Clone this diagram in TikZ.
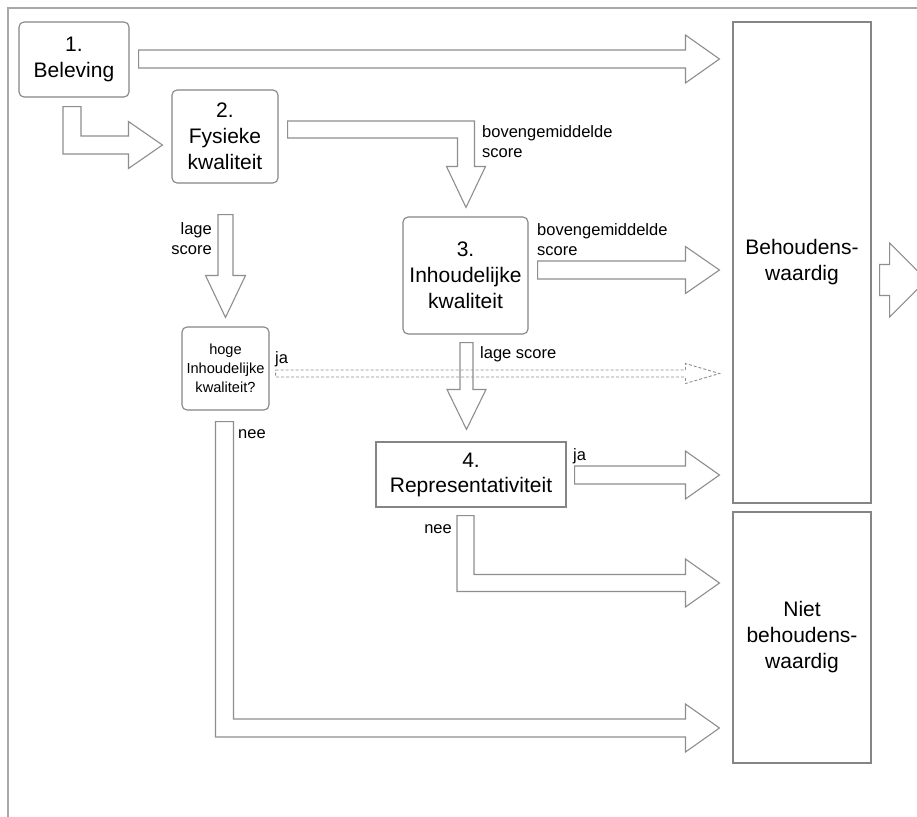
\documentclass[tikz,border=0pt]{standalone}
\usepackage{fontspec}
\setmainfont{Liberation Sans}
\usetikzlibrary{calc}
\definecolor{boxgray}{HTML}{858585}
\definecolor{arrgray}{HTML}{8E8E8E}
\definecolor{framegray}{HTML}{A8A8A8}
\tikzset{
  box/.style={draw=boxgray, line width=1.1pt, rounded corners=5pt, align=center, inner sep=0pt,
    font=\fontsize{21}{26}\selectfont},
  sqbox/.style={box, rounded corners=0pt},
  blk/.style={draw=arrgray, line width=1.1pt, fill=white, line join=miter},
  dashblk/.style={draw=arrgray, line width=0.9pt, dash pattern=on 3pt off 2pt},
  lbl/.style={inner sep=0pt, font=\fontsize{16.5}{20}\selectfont},
}
% horizontal block arrow: #1 extra style, #2 start, #3 tip, #4 half shaft, #5 half head, #6 head length
\newcommand\harr[6][]{%
  \draw[blk,#1] let \p1=#2, \p2=#3 in
    (\x1,{\y2+#4}) -- ({\x2-#6},{\y2+#4}) -- ({\x2-#6},{\y2+#5}) -- (\x2,\y2)
    -- ({\x2-#6},{\y2-#5}) -- ({\x2-#6},{\y2-#4}) -- (\x1,{\y2-#4}) -- cycle;}
% vertical (downward) block arrow
\newcommand\varr[5]{%
  \draw[blk] let \p1=#1, \p2=#2 in
    ({\x2-#3},\y1) -- ({\x2+#3},\y1) -- ({\x2+#3},{\y2+#5}) -- ({\x2+#4},{\y2+#5}) -- (\x2,\y2)
    -- ({\x2-#4},{\y2+#5}) -- ({\x2-#3},{\y2+#5}) -- cycle;}
% elbow: down then right
\newcommand\elbowDR[5]{%
  \draw[blk] let \p1=#1, \p2=#2 in
    ({\x1-#3},\y1) -- ({\x1+#3},\y1) -- ({\x1+#3},{\y2+#3}) -- ({\x2-#5},{\y2+#3})
    -- ({\x2-#5},{\y2+#4}) -- (\x2,\y2) -- ({\x2-#5},{\y2-#4}) -- ({\x2-#5},{\y2-#3})
    -- ({\x1-#3},{\y2-#3}) -- cycle;}
% elbow: right then down
\newcommand\elbowRD[5]{%
  \draw[blk] let \p1=#1, \p2=#2 in
    (\x1,{\y1+#3}) -- ({\x2+#3},{\y1+#3}) -- ({\x2+#3},{\y2+#5}) -- ({\x2+#4},{\y2+#5})
    -- (\x2,\y2) -- ({\x2-#4},{\y2+#5}) -- ({\x2-#3},{\y2+#5}) -- ({\x2-#3},{\y1-#3})
    -- (\x1,{\y1-#3}) -- cycle;}
\begin{document}
\begin{tikzpicture}[x=1pt, y=-1pt]
\useasboundingbox (0,0) rectangle (917,816);
\clip (0,0) rectangle (917,816);
\fill[white] (0,0) rectangle (917,816);
\draw[framegray, line width=2pt] (8,8) rectangle (940,840);

% nodes
\node[box, minimum width=110, minimum height=75] (b1) at (74,59.5) {1.\\Beleving};
\node[box, minimum width=106, minimum height=93] (b2) at (225,136.5) {2.\\Fysieke\\kwaliteit};
\node[box, minimum width=125, minimum height=117] (b3) at (465.5,275.5) {3.\\Inhoudelijke\\kwaliteit};
\node[box, minimum width=87, minimum height=83, font=\fontsize{14.6}{19}\selectfont] (hoge) at (225.5,368.5) {hoge\\Inhoudelijke\\kwaliteit?};
\node[sqbox, minimum width=190, minimum height=65, font=\fontsize{21}{25}\selectfont] (b4) at (471,474.5) {4.\\Representativiteit};
\node[sqbox, minimum width=138, minimum height=481] (beh) at (802,262.5) {Behoudens-\\waardig};
\node[sqbox, minimum width=138, minimum height=251] (niet) at (802,637.5) {Niet\\behoudens-\\waardig};

% straight block arrows
\harr{($(b1.east)+(9,0)$)}{($(beh.west |- b1.east)+(-13,-0.5)$)}{9pt}{24pt}{34pt}
\harr{($(b3.east)+(9,-5.5)$)}{($(beh.west |- b3.east)+(-13,-5.5)$)}{9pt}{23.5pt}{34pt}
\harr{($(b4.east)+(8,0)$)}{($(beh.west |- b4.east)+(-13,0.5)$)}{9pt}{24pt}{34pt}
\harr{($(beh.east)+(8,17.5)$)}{($(beh.east)+(55,17.5)$)}{15.5pt}{37pt}{37pt}
\varr{($(b2.south)+(0.5,31)$)}{($(hoge.north)+(0,-9)$)}{7.5pt}{20pt}{42pt}
\varr{($(b3.south)+(0,8)$)}{($(b4.north)+(-4.5,-12)$)}{6.5pt}{19.5pt}{40pt}

% elbow block arrows
\elbowDR{($(b1.south)+(-2,9)$)}{($(b2.west)+(-9,8.5)$)}{9pt}{23.5pt}{34pt}
\elbowRD{($(b2.east)+(9,-7)$)}{($(b3.north)+(0.5,-9)$)}{8.5pt}{19.5pt}{41pt}
\elbowDR{($(b4.south)+(-5.5,8)$)}{($(niet.west)+(-13,-54.5)$)}{8.5pt}{24pt}{34pt}
\elbowDR{($(hoge.south)+(-1,11)$)}{($(niet.west)+(-13,90.5)$)}{9pt}{24pt}{34pt}

% dashed arrow
\harr[dashblk, fill=none]{($(hoge.east)+(6,5)$)}{($(beh.west |- hoge.east)+(-13,5)$)}{3.5pt}{10pt}{34pt}

% labels
\node[lbl, align=left, anchor=north west] (l1) at (482,125) {bovengemiddelde\\score};
\node[lbl, align=left, anchor=north west] (l2) at (537,223) {bovengemiddelde\\score};
\node[lbl, align=right, anchor=north east] (l3) at (212,222) {lage\\score};
\node[lbl, anchor=base west] (l4) at (480,358) {lage score};
\node[lbl, anchor=base west] (l5) at (275,363) {ja};
\node[lbl, anchor=base west] (l6) at (238,438) {nee};
\node[lbl, anchor=base west] (l7) at (573,460) {ja};
\node[lbl, anchor=base east] (l8) at (452,533) {nee};
\end{tikzpicture}
\end{document}
